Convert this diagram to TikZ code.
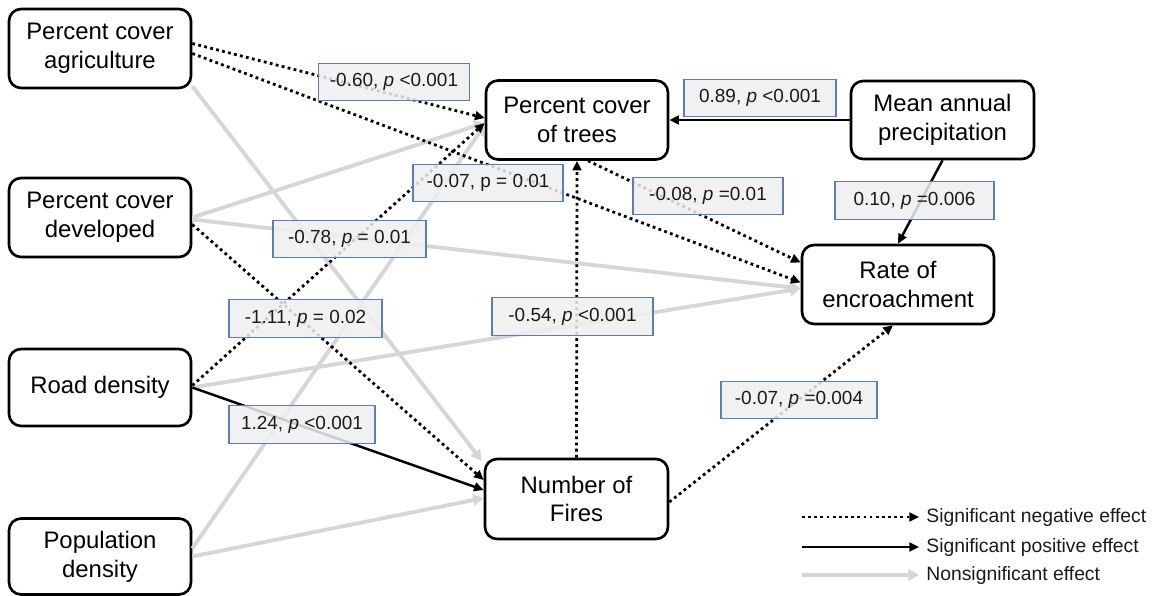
\documentclass[tikz,border=0pt]{standalone}
\usepackage{fontspec}
\setmainfont{Liberation Sans}
\usetikzlibrary{arrows.meta,calc}
\definecolor{edgegray}{HTML}{D6D6D6}
\definecolor{lblborder}{HTML}{5B7DB8}
\definecolor{lblfill}{HTML}{EFEFEF}
\definecolor{txt}{HTML}{1A1A1A}
\begin{document}
\begin{tikzpicture}[x=0.02cm,y=-0.02cm,
 box/.style={draw=black, line width=1.5pt, rounded corners=0.24cm, fill=white, align=center,
   font=\fontsize{13.6}{16.4}\selectfont, inner sep=0pt, minimum width=3.64cm, minimum height=1.58cm},
 lbl/.style={draw=lblborder, line width=0.6pt, fill=lblfill, fill opacity=0.85, text opacity=1,
   text=txt, font=\fontsize{10.8}{13}\selectfont, inner sep=0pt, minimum height=0.75cm},
 negedge/.style={line width=1.6pt, dash pattern=on 1.6pt off 1.9pt, -{Triangle[length=5.5pt,width=5pt]}},
 posedge/.style={line width=1.4pt, -{Triangle[length=5.5pt,width=5pt]}},
 nsedge/.style={line width=2.2pt, draw=edgegray, -{Triangle[length=6pt,width=6.5pt]}},
 legtext/.style={anchor=west, inner sep=0pt, text=txt, font=\fontsize{11}{13}\selectfont},
]
\useasboundingbox (0,0) rectangle (1156,595);

% nodes
\node[box] (agri) at (100,48.5) {Percent cover\\agriculture};
\node[box] (dev) at (100,217.5) {Percent cover\\developed};
\node[box, minimum height=1.54cm] (road) at (100,387.5) {Road density};
\node[box, minimum height=1.52cm] (pop) at (100,556.5) {Population\\density};
\node[box] (trees) at (577,120) {Percent cover\\of trees};
\node[box, minimum width=3.66cm, minimum height=1.56cm] (precip) at (942.5,120) {Mean annual\\precipitation};
\node[box, minimum width=3.84cm] (rate) at (898,284.5) {Rate of\\encroachment};
\node[box, minimum width=3.66cm, minimum height=1.6cm] (fires) at (576.5,499) {Number of\\Fires};

% nonsignificant
\draw[nsedge] ($(agri.south east)+(0,-3)$) -- ($(fires.north west)+(-2,3)$);
\draw[nsedge] (dev.east) -- ($(trees.west)+(0,3)$);
\draw[nsedge] ($(dev.east)+(0,2)$) -- ($(rate.west)+(0,4)$);
\draw[nsedge] (road.east) -- ($(rate.west)+(0,4)$);
\draw[nsedge] ($(pop.east)+(0,-8)$) -- ($(trees.west)+(0,5)$);
\draw[nsedge] (pop.east) -- ($(fires.west)+(0,-1)$);

% significant negative
\draw[negedge] ($(agri.east)+(0,-5)$) -- ($(trees.west)+(0,-2)$);
\draw[negedge] ($(agri.east)+(0,5)$) -- ($(rate.west)+(0,-2)$);
\draw[negedge] ($(trees.south)+(11,0)$) -- ($(rate.west)+(0,-22)$);
\draw[negedge] ($(dev.east)+(0,7)$) -- ($(fires.west)+(0,-19)$);
\draw[negedge] ($(road.east)+(0,-2)$) -- ($(trees.west)+(0,3)$);
\draw[negedge] (fires.north) -- (trees.south);
\draw[negedge] ($(fires.east)+(0,3)$) -- ($(rate.south)+(-5,0)$);

% significant positive
\draw[posedge] (precip.west) -- (trees.east);
\draw[posedge] (precip.south) -- (rate.north);
\draw[posedge] (road.east) -- ($(fires.west)+(0,-9)$);

% labels
\node[lbl, minimum width=3.02cm] (l1) at (394,82) {-0.60, \textit{p} <0.001};
\node[lbl, minimum width=3.04cm] (l2) at (760,98) {0.89, \textit{p} <0.001};
\node[lbl, minimum width=3.0cm] (l3) at (488,183) {-0.07, p = 0.01};
\node[lbl, minimum width=3.0cm] (l4) at (708,196) {-0.08, \textit{p} =0.01};
\node[lbl, minimum width=3.18cm] (l5) at (914.5,200.5) {0.10, \textit{p} =0.006};
\node[lbl, minimum width=3.06cm] (l6) at (349.5,239) {-0.78, \textit{p} = 0.01};
\node[lbl, minimum width=3.06cm] (l7) at (305.5,318.5) {-1.11, \textit{p} = 0.02};
\node[lbl, minimum width=3.22cm] (l8) at (572.5,316.5) {-0.54, \textit{p} <0.001};
\node[lbl, minimum width=2.92cm] (l9) at (302,424.5) {1.24, \textit{p} <0.001};
\node[lbl, minimum width=3.12cm] (l10) at (799,400) {-0.07, \textit{p} =0.004};

% legend
\coordinate (g1) at (802,517);
\coordinate (g2) at (802,547);
\coordinate (g3) at (802,575);
\node[legtext] (t1) at (926,517) {Significant negative effect};
\node[legtext] (t2) at (926,547) {Significant positive effect};
\node[legtext] (t3) at (926,575) {Nonsignificant effect};
\draw[negedge] (g1) -- ($(t1.west)+(-7,0)$);
\draw[posedge] (g2) -- ($(t2.west)+(-7,0)$);
\draw[nsedge] (g3) -- ($(t3.west)+(-7,0)$);
\end{tikzpicture}
\end{document}
